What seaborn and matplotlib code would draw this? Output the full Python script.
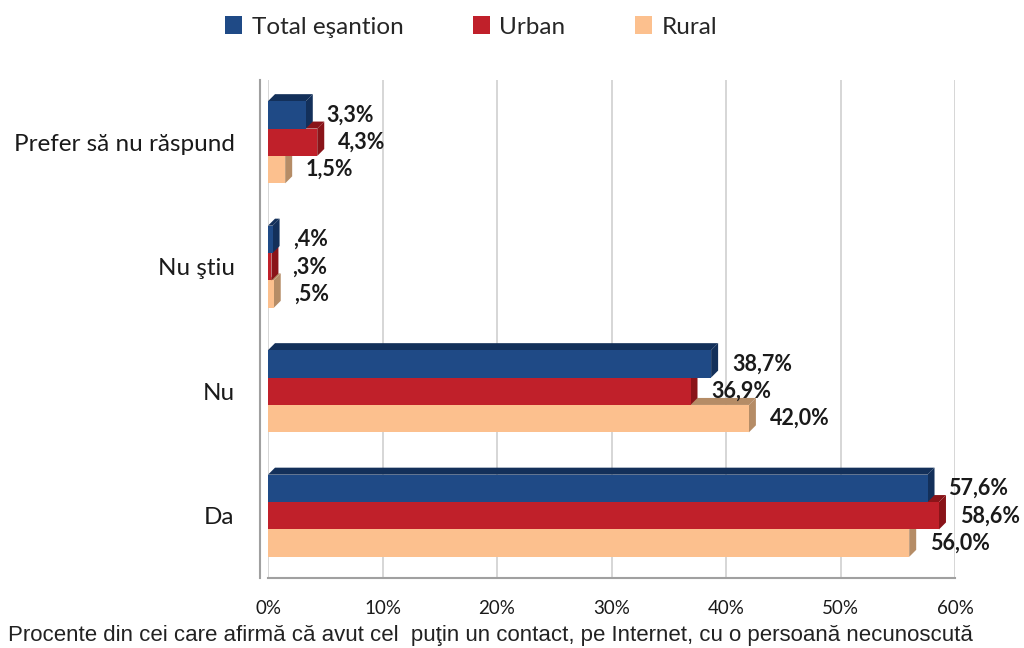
import matplotlib
matplotlib.use("Agg")
import matplotlib.pyplot as plt
import seaborn as sns
import pandas as pd
import numpy as np
from matplotlib.patches import Polygon, Patch
from matplotlib.transforms import IdentityTransform

categories = ["Prefer să nu răspund", "Nu ştiu", "Nu", "Da"]
groups = ["Total eşantion", "Urban", "Rural"]
total = [3.3, 0.4, 38.7, 57.6]
urban = [4.3, 0.3, 36.9, 58.6]
rural = [1.5, 0.5, 42.0, 56.0]
xticks = [0, 10, 20, 30, 40, 50, 60]
xtick_labels = ["0%", "10%", "20%", "30%", "40%", "50%", "60%"]
footer = "Procente din cei care afirmă că avut cel  puţin un contact, pe Internet, cu o persoană necunoscută"

colors = ["#1f4a86", "#c0202a", "#fcc08e"]
side_colors = ["#13305a", "#8a1419", "#b58c66"]

series = [total, urban, rural]

def fmt(v):
    s = f"{v:.1f}".replace(".", ",")
    if s.startswith("0,"):
        s = s[1:]
    return s + "%"

df = pd.DataFrame({
    "cat": categories * 3,
    "grp": np.repeat(groups, len(categories)),
    "val": total + urban + rural,
})

sns.set_style("white")
plt.rcParams["font.family"] = ["Lato", "DejaVu Sans"]

fig = plt.figure(figsize=(10.24, 6.48), dpi=100)
ax = fig.add_axes([268 / 1024, 1 - 578 / 648, (955 - 268) / 1024, (578 - 80) / 648])

sns.barplot(data=df, y="cat", x="val", hue="grp", order=categories, hue_order=groups,
            palette=colors, orient="h", width=0.66, ax=ax, legend=False,
            saturation=1, edgecolor="none", linewidth=0)

ax.set_xlim(0, 60)
ax.set_ylim(3.5, -0.5)
ax.set_xlabel("")
ax.set_ylabel("")
ax.set_axisbelow(True)
ax.xaxis.grid(True, color="#cfcfcf", lw=1.2)
ax.yaxis.grid(False)

for s in ["top", "right"]:
    ax.spines[s].set_visible(False)
for s in ["left", "bottom"]:
    ax.spines[s].set_color("#a0a0a0")
    ax.spines[s].set_linewidth(1.5)
ax.spines["left"].set_position(("outward", 6))

ax.set_xticks(xticks)
ax.set_xticklabels(xtick_labels, fontsize=13.5, color="#1a1a1a")
ax.tick_params(axis="x", length=6, color="#a0a0a0", direction="out", pad=10, width=1.2)

ax.set_yticks(range(len(categories)))
ax.set_yticklabels(categories, fontsize=17.5, color="#1a1a1a")
ax.tick_params(axis="y", which="major", length=0, pad=18)
ax.set_yticks(np.arange(-0.5, len(categories), 1.0), minor=True)
ax.tick_params(axis="y", which="minor", length=6, color="#a0a0a0", direction="out", width=1.2)

# z-ordering so upper bars sit on top of lower ones
for i, cont in enumerate(ax.containers):
    for p in cont.patches:
        p.set_zorder(4 - i)

for i, cont in enumerate(ax.containers):
    ax.bar_label(cont, labels=[fmt(v) for v in series[i]], padding=15, fontsize=15.5,
                 fontweight="bold", color="#1a1a1a", zorder=6)

# pseudo 3D faces derived from the drawn bars
fig.canvas.draw()
d = 7
for i, cont in enumerate(ax.containers):
    for p in cont.patches:
        bb = p.get_window_extent()
        x0, x1, y0, y1 = bb.x0, bb.x1, bb.y0, bb.y1
        side = [(x1, y0), (x1, y1), (x1 + d, y1 + d), (x1 + d, y0 + d)]
        top = [(x0, y1), (x1, y1), (x1 + d, y1 + d), (x0 + d, y1 + d)]
        for pts in (side, top):
            poly = Polygon(pts, closed=True, facecolor=side_colors[i], edgecolor="none",
                           transform=IdentityTransform(), zorder=3.9 - i, clip_on=False)
            ax.add_artist(poly)

handles = [Patch(facecolor=c, edgecolor="none") for c in colors]
fig.legend(handles, groups, loc="center", bbox_to_anchor=(471 / 1024, 1 - 27 / 648), ncol=3,
           frameon=False, fontsize=17.5, handlelength=0.7, handleheight=0.7,
           columnspacing=2.85, handletextpad=0.4)

fig.text(8 / 1024, 1 - 636 / 648, footer, fontsize=16, va="center", ha="left",
         color="#222222", family=["Liberation Sans", "DejaVu Sans"])

fig.savefig("out.png", dpi=100)
